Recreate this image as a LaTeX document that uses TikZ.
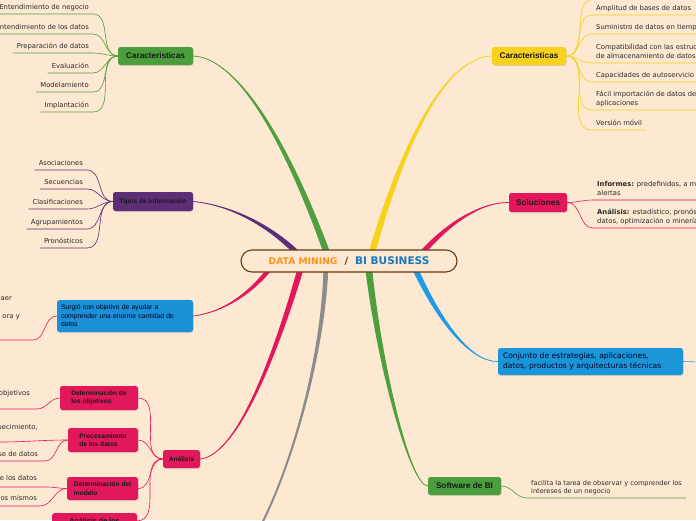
\documentclass[tikz,border=0pt]{standalone}
\usepackage{fontspec}
\setmainfont{DejaVu Sans}
\newfontfamily\boxfont{Liberation Sans}
\definecolor{PageBg}{HTML}{FDE8D1}
\definecolor{TextDark}{HTML}{2A2A2A}
\definecolor{BrGreen}{HTML}{4E9F3D}
\definecolor{BoxGreen}{HTML}{4A9E3C}
\definecolor{BrPurple}{HTML}{5C2E75}
\definecolor{BrPink}{HTML}{E3175B}
\definecolor{BoxBlue}{HTML}{1B90D6}
\definecolor{BrBlue}{HTML}{1E9BE8}
\definecolor{BrYellow}{HTML}{F7D11C}
\definecolor{BrGray}{HTML}{8C8C8C}
\definecolor{HubBrown}{HTML}{6B3A12}
\definecolor{DMOrange}{HTML}{F7941E}
\definecolor{BIBlue}{HTML}{1479BE}
\usetikzlibrary{calc,shadows}
\tikzset{
  topicbox/.style={rounded corners=2.5pt, inner sep=2pt, align=center, text=black!90, font=\boxfont\bfseries\fontsize{8.2}{9.5}\selectfont, drop shadow={shadow xshift=0.5pt, shadow yshift=-0.8pt, opacity=0.25}},
  smallbox/.style={topicbox, font=\boxfont\bfseries\fontsize{6.6}{8.5}\selectfont},
  subbox/.style={smallbox, align=left},
  leafL/.style={anchor=south east, align=right, inner xsep=4pt, inner ysep=3pt, text depth=1.8pt, text=TextDark, font=\fontsize{6.8}{9}\selectfont},
  leafR/.style={leafL, anchor=south west, align=left},
  frag/.style={anchor=base east, inner sep=0pt, text=TextDark, font=\fontsize{6.8}{9}\selectfont},
  twig/.style={line width=0.6pt}
}
% tapered main branch: colour, thin end, controls, thick end, half width
\newcommand{\taper}[6]{%
  \fill[#1] #2 .. controls ($#3+0.2*#6$) and ($#4+0.7*#6$) .. ($#5+#6$) -- ($#5-#6$) .. controls ($#4-0.7*#6$) and ($#3-0.2*#6$) .. #2 -- cycle;
  \draw[#1, line width=0.7pt] #2 .. controls #3 and #4 .. #5;}
\begin{document}
\begin{tikzpicture}[x=1pt, y=-1pt]
\useasboundingbox (0,0) rectangle (696,520);
\clip (0,0) rectangle (696,520);
\fill[PageBg] (0,0) rectangle (696,520);

% topics
\node[topicbox, fill=BoxGreen, minimum width=75pt, minimum height=18pt] (lcar) at (155.5,56) {Caracteristicas};
\node[smallbox, fill=BrPurple, minimum width=80pt, minimum height=19pt] (tipos) at (153,201.5) {Tipos de información};
\node[topicbox, fill=BoxBlue, text width=128pt, inner xsep=4pt, minimum height=32pt, align=left, font=\boxfont\fontsize{6.8}{8.5}\selectfont, text=black!85!blue] (surgio) at (125,316) {Surgió con objetivo de ayudar a\\comprender una enorme cantidad de\\datos};
\node[smallbox, fill=BrPink, minimum width=37pt, minimum height=18pt] (anal) at (181.5,459) {Análisis};
\node[subbox, fill=BrPink, minimum width=78pt, minimum height=24pt] (det1) at (99,398) {Determinación de\\los objetivos};
\node[subbox, fill=BrPink, minimum width=70pt, minimum height=24pt] (proc) at (103,440) {Procesamiento\\de los datos};
\node[subbox, fill=BrPink, minimum width=71pt, minimum height=23pt] (modb) at (102.5,488.5) {Determinación del\\modelo};
\node[subbox, fill=BrPink, minimum width=85pt, inner ysep=5pt, anchor=north, font=\boxfont\bfseries\fontsize{7.2}{8.5}\selectfont] (anal4) at (94.5,513) {Análisis de los};
\node[topicbox, fill=BrYellow, minimum width=74pt, minimum height=18pt] (rcar) at (529,56) {Caracteristicas};
\node[topicbox, fill=BrPink, minimum width=58pt, minimum height=19pt] (sol) at (538,202.5) {Soluciones};
\node[topicbox, fill=BoxBlue!95!cyan, text width=175pt, inner xsep=5pt, minimum height=27pt, align=left, font=\fontsize{7.6}{10}\selectfont, text=black!85!blue] (conj) at (590.5,361.5) {Conjunto de estrategias, aplicaciones,\\datos, productos y arquitecturas técnicas};
\node[topicbox, fill=BoxGreen, minimum width=73pt, minimum height=18pt] (soft) at (464.5,486) {Software de BI};

% main branches
\coordinate (grayEnd) at (250,545);
\taper{BrGreen}{(lcar.east)}{(240,58)}{(290,150)}{(328,256)}{(3.5,0)}
\taper{BrPurple}{(tipos.east)}{(230,205)}{(270,225)}{(300,256)}{(2,-2)}
\taper{BrPink}{(surgio.east)}{(225,312)}{(252,292)}{(272,266)}{(2,1.5)}
\taper{BrPink}{(anal.east)}{(240,455)}{(280,340)}{(302,264)}{(3,0.8)}
\draw[BrGray, line width=2pt] (grayEnd) .. controls (290,480) and (325,350) .. (326,262);
\taper{BrGray}{(grayEnd)}{(290,480)}{(325,350)}{(326,262)}{(2.5,0)}
\taper{BrGreen}{(soft.west)}{(410,486)}{(378,360)}{(368,262)}{(3.5,0)}
\taper{BrYellow}{(rcar.west)}{(440,58)}{(398,160)}{(371,256)}{(3.5,0)}
\taper{BrPink}{(sol.west)}{(480,202)}{(445,225)}{(418,258)}{(2.2,1.8)}
\taper{BrBlue}{(conj.west)}{(470,362)}{(438,320)}{(413,264)}{(2.7,-1.2)}

% central topic
\node[draw=HubBrown, line width=1.1pt, fill=PageBg, rounded corners=11pt, minimum width=216pt, minimum height=22pt, font=\bfseries] (hub) at (349,261)
  {{\color{DMOrange}\fontsize{9.2}{10}\selectfont DATA MINING}\hspace{7pt}{\color{HubBrown}\fontsize{10}{12}\selectfont /}\hspace{7pt}{\color{BIBlue}\fontsize{10.5}{12}\selectfont BI BUSINESS}};

% left Caracteristicas
\node[leafL] (ent1) at (93,14) {Entendimiento de negocio};
\node[leafL] (ent2) at (93,34) {Entendimiento de los datos};
\node[leafL] (prep) at (93,53) {Preparación de datos};
\node[leafL] (eval) at (93,73) {Evaluación};
\node[leafL] (modl) at (93,92) {Modelamiento};
\node[leafL] (impl) at (93,112) {Implantación};
\foreach \l in {ent1,ent2,prep,eval,modl,impl}
  \draw[twig, BrGreen] (\l.south west) -- (\l.south east) to[out=0,in=180] (lcar.west);

% Tipos de informacion
\node[leafL] (asoc) at (87,170) {Asociaciones};
\node[leafL] (secu) at (87,189) {Secuencias};
\node[leafL] (clas) at (87,209) {Clasificaciones};
\node[leafL] (agru) at (87,229) {Agrupamientos};
\node[leafL] (pron) at (87,248) {Pronósticos};
\foreach \l in {asoc,secu,clas,agru,pron}
  \draw[twig, BrPurple] (\l.south west) -- (\l.south east) to[out=0,in=180] (tipos.west);

% Surgio
\node[frag] (traTxt) at (12,300.5) {aer};
\node[frag] (oraTxt) at (20,318.5) {ora y};
\coordinate (surgEnd) at (0,340);
\coordinate (surgKnee) at (33,340);
\draw[twig, BrPink] (surgEnd) -- (surgKnee) to[out=0,in=180] (surgio.west);

% Analisis
\foreach \b in {det1,proc,modb,anal4}
  \draw[twig, BrPink] (\b.east) to[out=0,in=180] (anal.west);
\node[frag] (objTxt) at (30,395.5) {objetivos};
\node[frag] (enrTxt) at (38,429.5) {uecimiento,};
\node[frag] (baseTxt) at (38,456.5) {se de datos};
\node[frag] (losTxt) at (37,480.5) {e los datos};
\node[frag] (mismTxt) at (37,500.5) {os mismos};
\coordinate (objEnd) at (0,409);
\coordinate (objKnee) at (37,409);
\coordinate (enrEnd) at (0,442);
\coordinate (baseEnd) at (0,461);
\coordinate (baseKnee) at (45,461);
\coordinate (losEnd) at (0,487);
\coordinate (losKnee) at (47,487);
\coordinate (mismEnd) at (0,506);
\coordinate (mismKnee) at (40,506);
\draw[twig, BrPink] (objEnd) -- (objKnee) to[out=0,in=180] (det1.west);
\draw[twig, BrPink] (enrEnd) to[out=0,in=180] (proc.west);
\draw[twig, BrPink] (baseEnd) -- (baseKnee) to[out=0,in=180] (proc.west);
\draw[twig, BrPink] (losEnd) -- (losKnee) to[out=0,in=180] (modb.west);
\draw[twig, BrPink] (mismEnd) -- (mismKnee) to[out=0,in=180] (modb.west);

% right Caracteristicas
\coordinate (topTwig) at (594,-1);
\coordinate (topTwigEnd) at (700,-1);
\draw[twig, BrYellow] (rcar.east) to[out=0,in=180] (topTwig) -- (topTwigEnd);
\node[leafR] (ampl) at (592,15) {Amplitud de bases de datos};
\node[leafR] (sumi) at (592,34) {Suministro de datos en tiempo real};
\node[leafR] (comp) at (592,63) {Compatibilidad con las estructuras\\de almacenamiento de datos};
\node[leafR] (capa) at (592,82) {Capacidades de autoservicio};
\node[leafR] (faci) at (592,110) {Fácil importación de datos de otras\\aplicaciones};
\node[leafR] (vers) at (592,130) {Versión móvil};
\foreach \l in {ampl,sumi,comp,capa,faci,vers}
  \draw[twig, BrYellow] (rcar.east) to[out=0,in=180] (\l.south west) -- (\l.south east);

% Soluciones
\node[leafR] (info) at (593,200) {\textbf{Informes:} predefinidos, a medida,\\alertas};
\node[leafR] (anls) at (593,228) {\textbf{Análisis:} estadístico, pronósticos,\\datos, optimización o minería};
\foreach \l in {info,anls}
  \draw[twig, BrPink] (sol.east) to[out=0,in=180] (\l.south west) -- (\l.south east);

% Conjunto
\coordinate (conjEnd) at (700,362);
\draw[twig, BrBlue] (conj.east) -- (conjEnd);

% Software de BI
\node[leafR, font=\fontsize{6.6}{8}\selectfont] (softLeaf) at (527,498) {facilita la tarea de observar y comprender los\\intereses de un negocio};
\draw[twig, BrGreen] (soft.east) to[out=0,in=180] (softLeaf.south west) -- (softLeaf.south east);
\end{tikzpicture}
\end{document}
